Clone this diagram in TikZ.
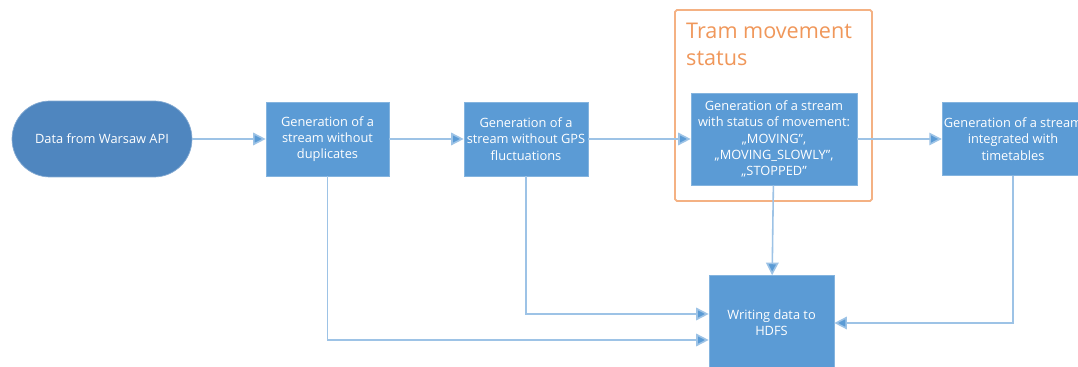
\documentclass[tikz,border=0pt]{standalone}
\usepackage{fontspec}
\setmainfont{Open Sans}
\usetikzlibrary{positioning,arrows.meta}
\definecolor{boxblue}{HTML}{5B9BD5}
\definecolor{pillblue}{HTML}{4F86BF}
\definecolor{lineblue}{HTML}{9DC3E6}
\definecolor{frameorange}{HTML}{F4B183}
\definecolor{titleorange}{HTML}{F0975A}

\begin{document}
\begin{tikzpicture}[x=0.02cm,y=-0.02cm,
  >={Triangle[length=2.5mm,width=2.5mm,fill=boxblue]},
  stage/.style={draw=boxblue!75!white,fill=boxblue,text=white,align=center,
    font=\fontsize{7.3}{9.2}\selectfont,inner sep=1pt},
  flow/.style={->,draw=lineblue,line width=0.9pt}]
\clip (0,0) rectangle (1078,367);
\fill[white] (0,0) rectangle (1078,367);
% group frame
\node[draw=frameorange,line width=1pt,rounded corners=1pt,minimum width=3.94cm,minimum height=3.82cm] (frame) at (773.5,105.5) {};
\node[text=titleorange,font=\fontsize{12.3}{15.3}\selectfont,align=left,anchor=north west] (title) at (680,17) {Tram movement\\status};
% stages
\node[stage,draw=pillblue!70!white,fill=pillblue,rounded corners=0.76cm,minimum width=3.6cm,minimum height=1.52cm] (api) at (102,139) {Data from Warsaw API};
\node[stage,minimum width=2.46cm,minimum height=1.48cm] (dedup) at (327.5,139) {Generation of a\\stream without\\duplicates};
\node[stage,minimum width=2.48cm,minimum height=1.48cm] (gps) at (526,139) {Generation of a\\stream without GPS\\fluctuations};
\node[stage,minimum width=3.32cm,minimum height=1.84cm] (status) at (774,139) {Generation of a stream\\with status of movement:\\„MOVING”,\\„MOVING\_SLOWLY”,\\„STOPPED”};
\node[stage,minimum width=2.8cm,minimum height=1.46cm] (timetab) at (1013,139) {Generation of a stream\\integrated with\\timetables};
\node[stage,minimum width=2.5cm,minimum height=1.9cm] (hdfs) at (771.5,323) {Writing data to\\HDFS};
% main flow
\draw[flow] (api) -- (dedup);
\draw[flow] (dedup) -- (gps);
\draw[flow] (gps) -- (status);
\draw[flow] (status) -- (timetab);
% to HDFS
\draw[flow] (status) -- (hdfs);
\draw[flow] (gps.south) |- (hdfs.west |- 0,314);
\draw[flow] (dedup.south) |- (hdfs.west |- 0,340);
\draw[flow] (timetab.south) |- (hdfs.east);
\end{tikzpicture}
\end{document}
